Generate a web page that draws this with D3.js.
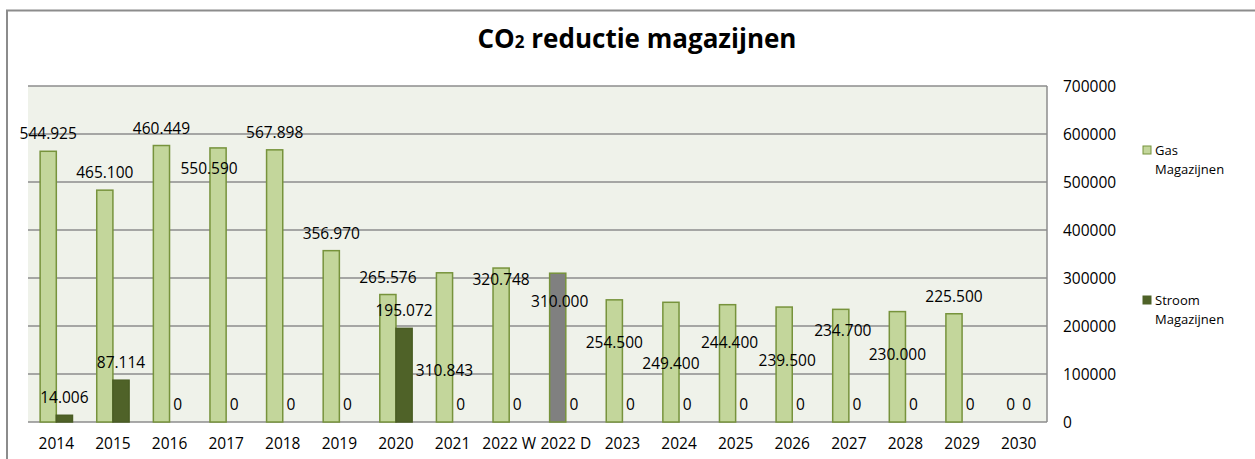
<!DOCTYPE html>
<html>
<head>
<meta charset="utf-8">
<script src="https://cdn.jsdelivr.net/npm/d3@7"></script>
<style>
  body { margin: 0; background: #fff; }
  text { font-family: "Open Sans", sans-serif; fill: #000; }
</style>
</head>
<body>
<div id="chart"></div>
<script>
// chart data
var categories = ["2014", "2015", "2016", "2017", "2018", "2019", "2020", "2021", "2022 W", "2022 D",
                  "2023", "2024", "2025", "2026", "2027", "2028", "2029", "2030"];
var gasValues = [564000, 483000, 576000, 571000, 567000, 356970, 265576, 310843, 320748, 310000,
                 254500, 249400, 244400, 239500, 234700, 230000, 225500, 0];
var stroomValues = [14006, 87114, 0, 0, 0, 0, 195072, 0, 0, 0, 0, 0, 0, 0, 0, 0, 0, 0];
var gasLabels = ["544.925", "465.100", "460.449", "550.590", "567.898", "356.970", "265.576", "310.843",
                 "320.748", "310.000", "254.500", "249.400", "244.400", "239.500", "234.700", "230.000",
                 "225.500", "0"];
var stroomLabels = ["14.006", "87.114", "0", "0", "0", "0", "195.072", "0", "0", "0", "0", "0", "0",
                    "0", "0", "0", "0", "0"];
var yTicks = [0, 100000, 200000, 300000, 400000, 500000, 600000, 700000];
var seriesNames = ["Gas", "Stroom"];

// hand-dragged data labels (pixel nudges from the default spot)
var gasLabelNudge = [[0, 0], [0, 0], [0, 0], [-9, 38], [0, 0], [0, 0], [0, 0], [0, 115], [0, 29], [2, 46],
                     [0, 60], [0, 79], [2, 55], [3, 71], [2, 39], [0, 60], [0, 0], [0, 0]];

var width = 1255, height = 459;
var plot = { left: 28, right: 1047, top: 86, bottom: 422 };

var svg = d3.select("#chart").append("svg")
    .attr("width", width)
    .attr("height", height);

// outer chart frame
svg.append("rect")
    .attr("x", 7).attr("y", 10.5)
    .attr("width", 1260).attr("height", 470)
    .style("fill", "#fff")
    .style("stroke", "#8c8c8c")
    .style("stroke-width", 2);

// title
var title = svg.append("text")
    .attr("x", 637).attr("y", 48)
    .attr("text-anchor", "middle")
    .style("font-size", "26px")
    .style("font-weight", "bold");
title.append("tspan").text("CO");
title.append("tspan").style("font-size", "17px").text("2");
title.append("tspan").text(" reductie magazijnen");

var x = d3.scaleBand().domain(categories).range([plot.left, plot.right]);
var x1 = d3.scaleBand().domain(seriesNames).range([0, x.bandwidth()]).paddingOuter(0.75);
var y = d3.scaleLinear().domain([0, 700000]).range([plot.bottom, plot.top]);

// plot background
svg.append("rect")
    .attr("x", plot.left).attr("y", plot.top)
    .attr("width", plot.right - plot.left).attr("height", plot.bottom - plot.top)
    .style("fill", "#eff2ea");

// gridlines
svg.selectAll(".grid")
    .data(yTicks)
    .enter().append("line")
    .attr("x1", plot.left).attr("x2", plot.right)
    .attr("y1", d => y(d)).attr("y2", d => y(d))
    .style("stroke", "#8c8c8c")
    .style("stroke-width", 1.5);

svg.append("line")
    .attr("x1", plot.right).attr("x2", plot.right)
    .attr("y1", plot.top).attr("y2", plot.bottom)
    .style("stroke", "#8c8c8c")
    .style("stroke-width", 1.5);

// y axis on the right
var yAxis = svg.append("g")
    .attr("transform", "translate(1063," + 0 + ")")
    .call(d3.axisRight(y).tickValues(yTicks).tickSize(0).tickPadding(0).tickFormat(d3.format("d")));
yAxis.select(".domain").remove();
yAxis.selectAll("text").style("font-size", "15.5px").attr("dy", "0.36em");

// x axis
var xAxis = svg.append("g")
    .attr("transform", "translate(0," + plot.bottom + ")")
    .call(d3.axisBottom(x).tickSize(0).tickPadding(16));
xAxis.select(".domain").remove();
xAxis.selectAll("text").style("font-size", "15.5px");

// bars
svg.selectAll(".gas")
    .data(gasValues)
    .enter().append("rect")
    .attr("class", "gas")
    .attr("x", (d, i) => x(categories[i]) + x1("Gas"))
    .attr("y", d => y(d))
    .attr("width", x1.bandwidth())
    .attr("height", d => y(0) - y(d))
    .style("fill", (d, i) => categories[i] === "2022 D" ? "#808080" : "#c3d69b")
    .style("stroke", "#77933c")
    .style("stroke-width", 1.5);

svg.selectAll(".stroom")
    .data(stroomValues)
    .enter().append("rect")
    .attr("class", "stroom")
    .attr("x", (d, i) => x(categories[i]) + x1("Stroom"))
    .attr("y", d => y(d))
    .attr("width", x1.bandwidth())
    .attr("height", d => y(0) - y(d))
    .style("fill", "#4f6228")
    .style("stroke", "#4a5d24")
    .style("stroke-width", d => d > 0 ? 1.5 : 0);

// data labels
svg.selectAll(".gas-label")
    .data(gasValues)
    .enter().append("text")
    .attr("text-anchor", "middle")
    .attr("x", (d, i) => x(categories[i]) + x1("Gas") + x1.bandwidth() / 2 + gasLabelNudge[i][0])
    .attr("y", (d, i) => y(d) - 12 + gasLabelNudge[i][1])
    .style("font-size", "15.5px")
    .text((d, i) => gasLabels[i]);

svg.selectAll(".stroom-label")
    .data(stroomValues)
    .enter().append("text")
    .attr("text-anchor", "middle")
    .attr("x", (d, i) => x(categories[i]) + x1("Stroom") + x1.bandwidth() / 2)
    .attr("y", d => y(d) - 12)
    .style("font-size", "15.5px")
    .text((d, i) => stroomLabels[i]);

// legend
var legend = svg.selectAll(".legend")
    .data([{ name: "Gas", fill: "#c3d69b", stroke: "#77933c", y: 146 },
           { name: "Stroom", fill: "#4f6228", stroke: "#4f6228", y: 296 }])
    .enter().append("g")
    .attr("transform", d => "translate(1143," + d.y + ")");
legend.append("rect")
    .attr("width", 8).attr("height", 8)
    .style("fill", d => d.fill)
    .style("stroke", d => d.stroke)
    .style("stroke-width", 1);
legend.append("text")
    .attr("x", 12).attr("y", 9)
    .style("font-size", "13px")
    .text(d => d.name);
legend.append("text")
    .attr("x", 12).attr("y", 27.5)
    .style("font-size", "13px")
    .text("Magazijnen");
</script>
</body>
</html>
